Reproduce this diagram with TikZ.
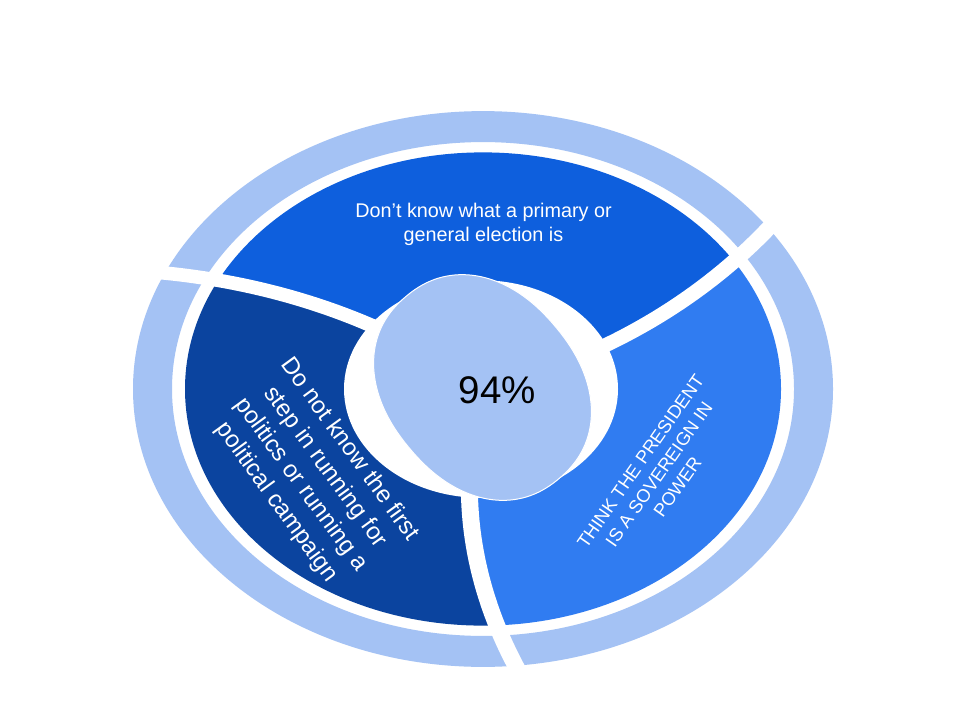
\documentclass[tikz,border=0pt]{standalone}
\usepackage{fontspec}
\setmainfont{Liberation Sans}
\definecolor{ringlight}{RGB}{164,194,244}
\definecolor{segtop}{RGB}{14,95,221}
\definecolor{segleft}{RGB}{11,68,159}
\definecolor{segright}{RGB}{48,124,241}
\begin{document}
\begin{tikzpicture}[x=1pt,y=-1pt,
  gapline/.style={white, line width=17pt, line cap=butt},
  lbl/.style={text=white, align=center, inner sep=0pt},
]
\useasboundingbox[fill=white] (0,0) rectangle (960,720);
\begin{scope}[transform canvas={shift={(483,389)}, yscale=0.794}]
  \fill[ringlight, even odd rule] (0,0) circle[radius=350] (0,0) circle[radius=311];
  \begin{scope}
    \clip (0,0) circle[radius=298];
    \fill[segtop] plot[domain=0:420, samples=43] ({215.6-0.0516*(\x-138)}:\x) -- (275.6:1000)
      -- plot[domain=420:0, samples=43] ({335.6-0.0516*(\x-138)}:\x) -- cycle;
    \fill[segright] plot[domain=0:420, samples=43] ({335.6-0.0516*(\x-138)}:\x) -- (395.6:1000)
      -- plot[domain=420:0, samples=43] ({455.6-0.0516*(\x-138)}:\x) -- cycle;
    \fill[segleft] plot[domain=0:420, samples=43] ({95.6-0.0516*(\x-138)}:\x) -- (155.6:1000)
      -- plot[domain=420:0, samples=43] ({215.6-0.0516*(\x-138)}:\x) -- cycle;
  \end{scope}
  \fill[white] (-2,0) circle[radius=137];
  \foreach \a in {95.6,215.6,335.6}
    \draw[gapline] plot[domain=100:380, samples=30] ({\a-0.0516*(\x-138)}:\x);
\end{scope}
\begin{scope}[shift={(482.5,387.5)}, rotate=-50]
  \fill[ringlight, draw=white, line width=1pt]
    plot[domain=0.5:360.5, samples=145] ({119*cos(\x)/abs(cos(\x))^0.091}, {95*sin(\x)/abs(sin(\x))^0.091}) -- cycle;
\end{scope}
\node[inner sep=0pt, font=\fontsize{38.5}{40}\selectfont] (pct) at (497.5,390) {94\%};
\node[lbl, font=\fontsize{19.8}{24}\selectfont] (toptext) at (483.5,224) {Don’t know what a primary or\\general election is};
\node[lbl, font=\fontsize{24}{30}\selectfont, rotate=-54] (lefttext) at (313,476) {Do not know the first\\step in running for\\politics or running a\\political campaign};
\node[lbl, font=\fontsize{18.3}{22.5}\selectfont, rotate=55] (righttext) at (659,474) {THINK THE PRESIDENT\\IS A SOVEREIGN IN\\POWER};
\end{tikzpicture}
\end{document}
